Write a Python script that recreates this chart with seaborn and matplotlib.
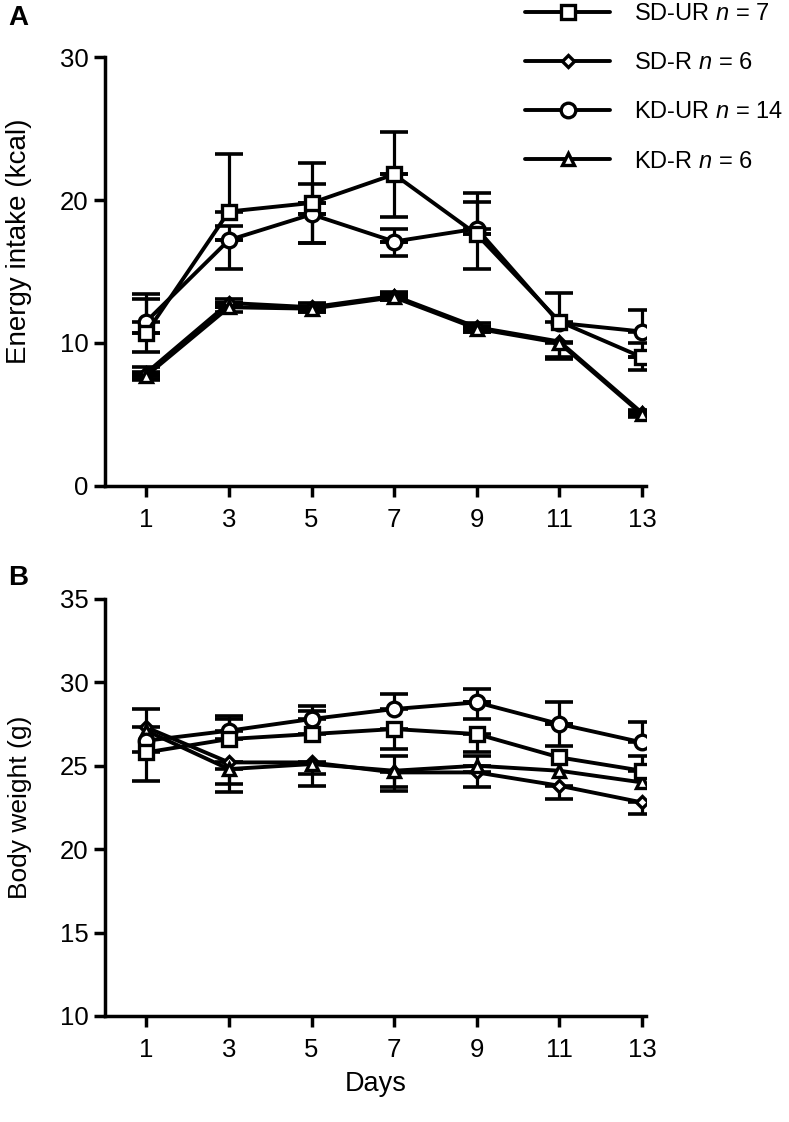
import numpy as np
import pandas as pd
import seaborn as sns
import matplotlib.pyplot as plt
from matplotlib.lines import Line2D

# Data
days = [1, 3, 5, 7, 9, 11, 13]
groups = ['SD-UR', 'SD-R', 'KD-UR', 'KD-R']
group_n = [7, 6, 14, 6]
draw_order = ['SD-R', 'KD-R', 'KD-UR', 'SD-UR']

# Panel A: energy intake (kcal)
sdur_a = [10.7, 19.2, 19.8, 21.8, 17.6, 11.5, 9.0]
sdr_a = [7.9, 12.8, 12.5, 13.3, 11.1, 10.1, 5.1]
kdur_a = [11.5, 17.2, 19.0, 17.1, 18.0, 11.4, 10.8]
kdr_a = [7.7, 12.5, 12.4, 13.2, 11.0, 10.0, 5.0]

sdur_a_up = [2.4, 4.0, 2.8, 3.0, 2.9, 2.0, 1.0]
sdur_a_dn = [1.3, 0.0, 2.8, 3.0, 2.4, 0.0, 0.9]
sdr_a_up = [0.4, 0.3, 0.3, 0.3, 0.3, 0.0, 0.2]
sdr_a_dn = [0.4, 0.3, 0.3, 0.3, 0.3, 1.2, 0.2]
kdur_a_up = [1.9, 1.0, 2.1, 0.9, 1.9, 0.0, 1.5]
kdur_a_dn = [0.0, 2.0, 2.0, 1.0, 0.0, 0.0, 0.0]
kdr_a_up = [0.3, 0.3, 0.2, 0.2, 0.2, 0.0, 0.2]
kdr_a_dn = [0.3, 0.3, 0.2, 0.2, 0.2, 1.0, 0.2]

# Panel B: body weight (g)
sdur_b = [25.8, 26.6, 26.9, 27.2, 26.9, 25.5, 24.7]
sdr_b = [27.3, 25.2, 25.2, 24.6, 24.6, 23.8, 22.8]
kdur_b = [26.5, 27.1, 27.8, 28.4, 28.8, 27.5, 26.4]
kdr_b = [27.1, 24.8, 25.1, 24.7, 25.0, 24.7, 24.0]

sdur_b_up = [0.0, 1.2, 1.4, 0.0, 0.0, 0.0, 0.9]
sdur_b_dn = [1.7, 0.0, 0.0, 1.2, 1.1, 0.0, 0.0]
sdr_b_up = [1.1, 0.0, 0.0, 0.0, 0.0, 0.0, 0.0]
sdr_b_dn = [0.0, 1.8, 1.4, 1.1, 0.9, 0.8, 0.7]
kdur_b_up = [0.0, 0.9, 0.8, 0.9, 0.8, 1.3, 1.2]
kdur_b_dn = [0.0, 0.0, 0.0, 0.0, 1.0, 1.3, 0.0]
kdr_b_up = [0.0, 0.0, 0.0, 0.9, 0.6, 0.0, 0.0]
kdr_b_dn = [0.0, 0.9, 0.6, 1.0, 0.0, 0.0, 0.0]

# Styles
markers = {'SD-UR': 's', 'SD-R': 'D', 'KD-UR': 'o', 'KD-R': '^'}
msizes = {'SD-UR': 10, 'SD-R': 6, 'KD-UR': 10.5, 'KD-R': 8.5}
lw = 2.8
mew = 2.4
tick_fs = 18.5
legend_fs = 17

sns.set_style("ticks")
plt.rcParams['font.family'] = ['Liberation Sans', 'DejaVu Sans']
plt.rcParams['mathtext.fontset'] = 'custom'
plt.rcParams['mathtext.rm'] = 'Liberation Sans'
plt.rcParams['mathtext.it'] = 'Liberation Sans:italic'
plt.rcParams['text.color'] = 'black'
plt.rcParams['axes.labelcolor'] = 'black'
plt.rcParams['xtick.color'] = 'black'
plt.rcParams['ytick.color'] = 'black'
plt.rcParams['axes.edgecolor'] = 'black'


def draw_panel(ax, values, ups, downs):
    df = pd.DataFrame({'day': days * 4,
                       'value': [v for g in groups for v in values[g]],
                       'group': [g for g in groups for _ in days]})
    for g in draw_order:
        x = np.array(days)
        y = np.array(values[g])
        # one-sided error bars, only where the reference shows them
        for errs, is_up in [(np.array(ups[g]), True), (np.array(downs[g]), False)]:
            keep = errs > 0
            if not keep.any():
                continue
            zeros = np.zeros(keep.sum())
            yerr = [zeros, errs[keep]] if is_up else [errs[keep], zeros]
            ax.errorbar(x[keep], y[keep], yerr=yerr, fmt='none', ecolor='black',
                        elinewidth=2.3, capsize=10, capthick=2.6, zorder=2)
        sns.lineplot(data=df[df.group == g], x='day', y='value', ax=ax,
                     color='black', linewidth=lw, marker=markers[g],
                     markersize=msizes[g], markerfacecolor='white',
                     markeredgecolor='black', markeredgewidth=mew,
                     zorder=3, legend=False)
    sns.despine(ax=ax)
    for sp in ['left', 'bottom']:
        ax.spines[sp].set_linewidth(2.5)
    ax.set_xlim(0, 13.1)
    ax.set_xticks(days)
    ax.tick_params(axis='both', width=2.5, length=8, labelsize=tick_fs, direction='out')
    ax.tick_params(axis='x', pad=8)
    ax.tick_params(axis='y', pad=4)
    ax.set_xlabel('')


fig = plt.figure(figsize=(7.89, 11.22), dpi=100)
axA = fig.add_axes([0.133, 0.567, 0.686, 0.382])
axB = fig.add_axes([0.133, 0.0945, 0.686, 0.3717])

draw_panel(axA,
           {'SD-UR': sdur_a, 'SD-R': sdr_a, 'KD-UR': kdur_a, 'KD-R': kdr_a},
           {'SD-UR': sdur_a_up, 'SD-R': sdr_a_up, 'KD-UR': kdur_a_up, 'KD-R': kdr_a_up},
           {'SD-UR': sdur_a_dn, 'SD-R': sdr_a_dn, 'KD-UR': kdur_a_dn, 'KD-R': kdr_a_dn})
axA.set_ylim(0, 30)
axA.set_yticks([0, 10, 20, 30])
axA.set_ylabel('Energy intake (kcal)', fontsize=20)
axA.yaxis.set_label_coords(-0.135, 0.57)

draw_panel(axB,
           {'SD-UR': sdur_b, 'SD-R': sdr_b, 'KD-UR': kdur_b, 'KD-R': kdr_b},
           {'SD-UR': sdur_b_up, 'SD-R': sdr_b_up, 'KD-UR': kdur_b_up, 'KD-R': kdr_b_up},
           {'SD-UR': sdur_b_dn, 'SD-R': sdr_b_dn, 'KD-UR': kdur_b_dn, 'KD-R': kdr_b_dn})
axB.set_ylim(10, 35)
axB.set_yticks([10, 15, 20, 25, 30, 35])
axB.set_ylabel('Body weight (g)', fontsize=19)
axB.yaxis.set_label_coords(-0.135, 0.5)
axB.set_xlabel('Days', fontsize=19.5, labelpad=6)

# Legend at the top right
handles = [Line2D([0], [0], color='black', linewidth=lw, marker=markers[g],
                  markersize=msizes[g], markerfacecolor='white',
                  markeredgecolor='black', markeredgewidth=mew) for g in groups]
labels = [f'{g} $n$ = {n}' for g, n in zip(groups, group_n)]
fig.legend(handles, labels, loc='upper left', bbox_to_anchor=(0.645, 1.012),
           frameon=False, fontsize=legend_fs, handlelength=3.6,
           handletextpad=1.0, labelspacing=1.15, borderpad=0.2)

fig.text(0.01, 0.984, 'A', fontsize=20, fontweight='bold', va='center')
fig.text(0.01, 0.485, 'B', fontsize=20, fontweight='bold', va='center')

fig.savefig('out.png', dpi=100)
